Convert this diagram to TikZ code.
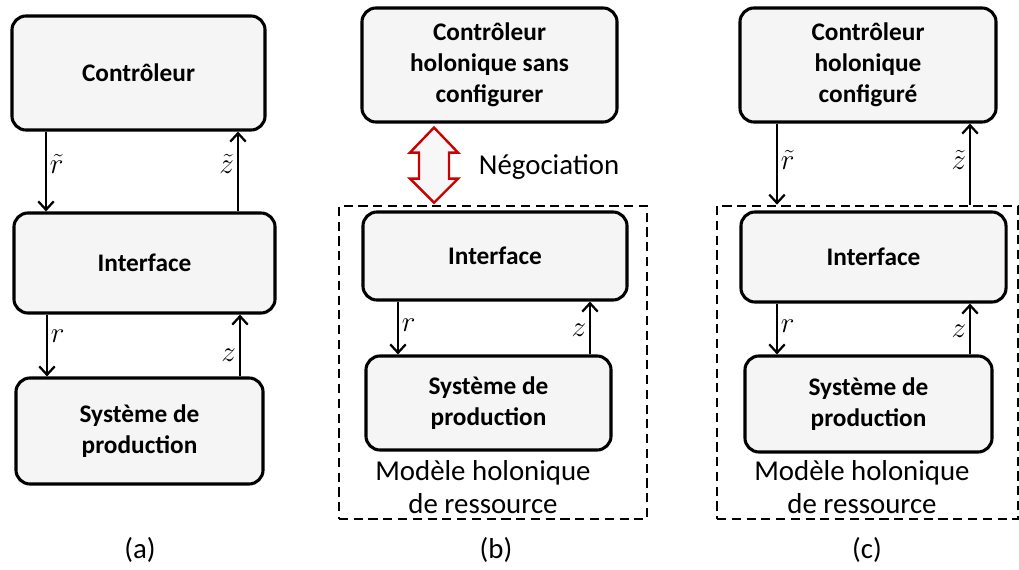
\documentclass[tikz,border=0pt]{standalone}
\usepackage{amsmath,amssymb}
\usepackage{fontspec}
\setmainfont{Carlito}
\usepackage{tikz}
\usetikzlibrary{positioning, arrows.meta, calc}

\tikzset{
	bloc/.style={draw, line width=2.2pt, rounded corners=10pt, fill=black!4, align=center,
		font=\fontsize{18}{22}\selectfont\bfseries, inner sep=0pt},
	holon/.style={draw, line width=1.8pt, dash pattern=on 6.5pt off 4pt, inner sep=0pt},
	sig/.style={line width=1.6pt, -{Straight Barb[length=6pt, width=11pt, line width=1.6pt]}},
	lbl/.style={font=\fontsize{20}{24}\selectfont, inner sep=2pt},
	txt/.style={font=\fontsize{20.5}{24}\selectfont, align=center},
	nego/.style={draw=red!80!black, line width=1.7pt, fill=black!3, line join=miter}
}

\begin{document}
\begin{tikzpicture}[x=0.025cm, y=-0.025cm]
	\useasboundingbox (0,0) rectangle (1019,570);

	% (a)
	\node[bloc, minimum width=6.325cm, minimum height=2.85cm] (ctla) at (138.5,73) {Contrôleur};
	\node[bloc, minimum width=6.525cm, minimum height=2.5cm] (infa) at (144.5,263) {Interface};
	\node[bloc, minimum width=6.175cm, minimum height=2.65cm] (sysa) at (139.5,431) {Système de\\production};
	\draw[sig] (ctla.south -| 46,0) -- node[lbl, right, pos=0.4] {$\tilde{r}$} (infa.north -| 46,0);
	\draw[sig] (infa.north -| 238,0) -- node[lbl, left, pos=0.6] {$\tilde{z}$} (ctla.south -| 238,0);
	\draw[sig] (infa.south -| 47,0) -- node[lbl, right, pos=0.35] {$r$} (sysa.north -| 47,0);
	\draw[sig] (sysa.north -| 240,0) -- node[lbl, left, pos=0.35] {$z$} (infa.south -| 240,0);
	\node[txt] (capa) at (140,550) {(a)};

	% (b)
	\node[bloc, minimum width=6.375cm, minimum height=2.85cm] (ctlb) at (489.5,65) {Contrôleur\\holonique sans\\configurer};
	\node[holon, minimum width=7.7cm, minimum height=7.825cm] (modb) at (493,362.5) {};
	\node[bloc, minimum width=6.6cm, minimum height=2.2cm] (infb) at (495,256) {Interface};
	\node[bloc, minimum width=6.125cm, minimum height=2.35cm] (sysb) at (488.5,403) {Système de\\production};
	\draw[sig] (infb.south -| 398,0) -- node[lbl, right, pos=0.45] {$r$} (sysb.north -| 398,0);
	\draw[sig] (sysb.north -| 590,0) -- node[lbl, left, pos=0.45] {$z$} (infb.south -| 590,0);
	\coordinate (negtop) at ($(ctlb.south -| 434,0)+(0,4)$);
	\coordinate (negbot) at ($(modb.north -| 434,0)+(0,-2)$);
	\draw[nego] (negtop) -- ++(24,25) -- ++(-9,0) -- ($(negbot)+(15,-24)$) -- ++(9,0)
		-- (negbot) -- ++(-24,-24) -- ++(9,0) -- ($(negtop)+(-15,25)$) -- ++(-9,0) -- cycle;
	\node[txt, anchor=west] (negb) at (474,167) {Négociation};
	\node[txt] (holb) at (483,487) {Modèle holonique\\de ressource};
	\node[txt] (capb) at (496,550) {(b)};

	% (c)
	\node[bloc, minimum width=6.4cm, minimum height=2.85cm] (ctlc) at (868,65) {Contrôleur\\holonique\\configuré};
	\node[holon, minimum width=7.525cm, minimum height=7.825cm] (modc) at (867.5,362.5) {};
	\node[bloc, minimum width=6.625cm, minimum height=2.25cm] (infc) at (873.5,257) {Interface};
	\node[bloc, minimum width=6.175cm, minimum height=2.4cm] (sysc) at (868.5,404) {Système de\\production};
	\draw[sig] (ctlc.south -| 777,0) -- node[lbl, right, pos=0.45] {$\tilde{r}$} (modc.north -| 777,0);
	\draw[sig] (modc.north -| 970,0) -- node[lbl, left, pos=0.55] {$\tilde{z}$} (ctlc.south -| 970,0);
	\draw[sig] (infc.south -| 777,0) -- node[lbl, right, pos=0.45] {$r$} (sysc.north -| 777,0);
	\draw[sig] (sysc.north -| 970,0) -- node[lbl, left, pos=0.45] {$z$} (infc.south -| 970,0);
	\node[txt] (holc) at (862,487) {Modèle holonique\\de ressource};
	\node[txt] (capc) at (867,550) {(c)};
\end{tikzpicture}
\end{document}
